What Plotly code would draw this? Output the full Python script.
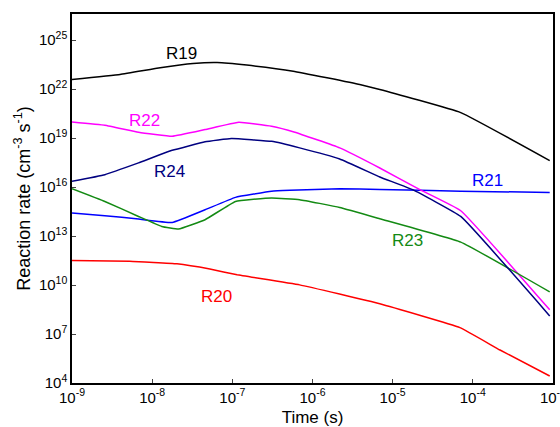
import plotly.graph_objects as go

# log10(time) and log10(rate)
r19_t = [-9.0, -8.40, -7.90, -7.49, -7.19, -6.82, -6.24, -5.41, -5.16, -4.15, -3.04]
r19_r = [22.59, 22.90, 23.31, 23.57, 23.63, 23.47, 23.10, 22.28, 21.98, 20.56, 17.62]

r20_t = [-9.0, -8.28, -7.69, -7.28, -6.94, -6.16, -5.16, -4.16, -3.66, -3.04]
r20_r = [11.50, 11.45, 11.30, 10.98, 10.63, 10.01, 8.85, 7.39, 6.02, 4.43]

r21_t = [-9.0, -8.59, -8.17, -7.75, -7.34, -6.96, -6.51, -6.28, -5.66, -5.16, -4.15, -3.04]
r21_r = [14.41, 14.25, 14.04, 13.83, 14.61, 15.37, 15.74, 15.80, 15.90, 15.85, 15.75, 15.67]

r22_t = [-9.0, -8.59, -8.17, -7.75, -7.34, -6.92, -6.51, -6.22, -5.66, -5.16, -4.66, -4.15, -3.04]
r22_r = [19.99, 19.79, 19.36, 19.11, 19.52, 19.97, 19.73, 19.36, 18.40, 17.17, 15.84, 14.55, 8.48]

r23_t = [-9.0, -8.59, -8.17, -7.88, -7.67, -7.34, -6.96, -6.51, -6.16, -5.66, -5.16, -4.15, -3.04]
r23_r = [15.90, 15.12, 14.20, 13.59, 13.43, 14.00, 15.12, 15.33, 15.23, 14.75, 14.06, 12.63, 9.58]

r24_t = [-9.0, -8.59, -8.17, -7.75, -7.34, -7.01, -6.51, -6.16, -5.66, -5.16, -4.75, -4.15, -3.04]
r24_r = [16.35, 16.76, 17.48, 18.25, 18.77, 18.97, 18.80, 18.40, 17.72, 16.62, 15.84, 14.20, 8.11]

series = [
    ("R19", r19_t, r19_r, "#000000", -7.63, 24.17),
    ("R20", r20_t, r20_r, "#ff0000", -7.20, 9.30),
    ("R21", r21_t, r21_r, "#0000ff", -3.82, 16.41),
    ("R22", r22_t, r22_r, "#ff00ff", -8.10, 20.09),
    ("R23", r23_t, r23_r, "#138a13", -4.81, 12.73),
    ("R24", r24_t, r24_r, "#000080", -7.78, 16.96),
]

x_tick_exp = [-9, -8, -7, -6, -5, -4, -3]
y_tick_exp = [4, 7, 10, 13, 16, 19, 22, 25]

fig = go.Figure()
for name, lt, lr, col, lx, ly in series:
    fig.add_trace(go.Scatter(
        x=[10.0 ** v for v in lt], y=[10.0 ** v for v in lr],
        mode="lines", line=dict(color=col, width=1.5, shape="spline", smoothing=0.3),
        name=name, showlegend=False))
    fig.add_annotation(x=lx, y=ly, xref="x", yref="y", text=name, showarrow=False,
                       font=dict(color=col, size=17, family="Liberation Sans, Arial"))

fig.update_layout(
    width=560, height=427,
    margin=dict(l=72, r=7, t=14, b=44, autoexpand=False),
    paper_bgcolor="white", plot_bgcolor="white",
    font=dict(family="Liberation Sans, Arial", color="black"),
)
fig.update_xaxes(
    type="log", range=[-9, -2.999], automargin=False,
    tickvals=[10.0 ** e for e in x_tick_exp],
    ticktext=["10<sup>%d</sup>" % e for e in x_tick_exp],
    tickfont=dict(size=15), ticklabeloverflow="allow",
    showgrid=False, zeroline=False,
    showline=True, linecolor="black", linewidth=1.5, mirror=True,
    ticks="inside", ticklen=4,
    title=dict(text="Time (s)", font=dict(size=17), standoff=6),
)
fig.update_yaxes(
    type="log", range=[4, 26.6], automargin=False,
    tickvals=[10.0 ** e for e in y_tick_exp],
    ticktext=["10<sup>%d</sup>" % e for e in y_tick_exp],
    tickfont=dict(size=15),
    showgrid=False, zeroline=False,
    showline=True, linecolor="black", linewidth=1.5, mirror=True,
    ticks="inside", ticklen=4,
    title=dict(text="Reaction rate (cm<sup>-3</sup> s<sup>-1</sup>)", font=dict(size=18), standoff=4),
)

fig.write_html("out.html")
